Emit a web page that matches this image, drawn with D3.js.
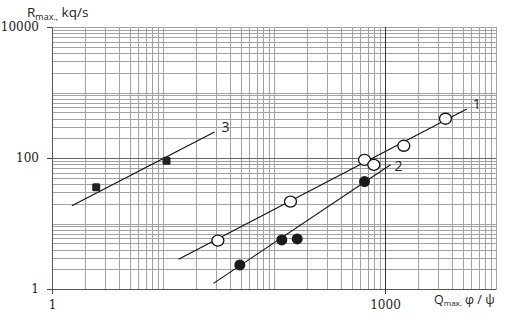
<!DOCTYPE html>
<html><head><meta charset="utf-8">
<script src="https://cdn.jsdelivr.net/npm/d3@7"></script>
<style>
html,body{margin:0;padding:0;background:#fff;}
svg{display:block;}
</style></head>
<body>
<svg id="c" width="508" height="320"></svg>
<script>
// ---- data ----
const xTickLabels = [1, 1000];
const yTickLabels = [1, 100, 10000];
const s1X = [31.2, 140.8, 653.6, 792.6, 1477, 3508];
const s1Y = [5.48, 21.6, 93.9, 78.7, 153.7, 397.6];
const s2X = [49.2, 117.6, 161.8, 653.6];
const s2Y = [2.33, 5.61, 5.81, 43.7];
const s3X = [2.50, 10.75];
const s3Y = [35.9, 90.6];
const line1X = [13.8, 5458], line1Y = [2.85, 559.4];
const line2X = [28.5, 1121], line2Y = [1.22, 78.7];
const line3X = [1.51, 29.1], line3Y = [18.6, 248.9];
const lineNames = ["1", "2", "3"];
const yTitle = ["R", "max.,", " kq/s"];
const xTitle = ["Q", "max.", " φ / ψ"];

// ---- drawing ----
const svg = d3.select("#c");
const x = d3.scaleLog().domain([1, 10000]).range([52, 496]);
const y = d3.scaleLog().domain([1, 10000]).range([289, 27]);

const minor = [];
for (let d = 1; d < 10000; d *= 10) for (let k = 1; k <= 9; k++) minor.push(d * k);
minor.push(10000);

// grid
const gx = svg.append("g").attr("transform", "translate(0,289)")
  .call(d3.axisBottom(x).tickValues(minor.filter(v => v > 1)).tickSize(-262).tickFormat(""));
gx.select(".domain").remove();
gx.selectAll("line").attr("stroke", "#a2a2a2").attr("shape-rendering", "crispEdges");
const gy = svg.append("g").attr("transform", "translate(52,0)")
  .call(d3.axisLeft(y).tickValues(minor.filter(v => v > 1)).tickSize(-444).tickFormat(""));
gy.select(".domain").remove();
gy.selectAll("line").attr("stroke", "#a2a2a2").attr("shape-rendering", "crispEdges");
gy.selectAll(".tick").filter(d => d === 100).select("line").attr("stroke", "#666");

// axes with labels
const ax = svg.append("g").attr("transform", "translate(0,289)")
  .call(d3.axisBottom(x).tickValues(xTickLabels).tickSize(5).tickPadding(6).tickFormat(d3.format("d")));
ax.select(".domain").attr("stroke", "#555").attr("d", "M52.5,0.5H496.5");
ax.selectAll("line").attr("stroke", "#444");
ax.selectAll(".tick").filter(d => d === 1000).select("line").attr("y1", -262).attr("stroke", "#333");
ax.selectAll("text").attr("font-family", "DejaVu Serif").attr("font-size", 12).attr("fill", "#222");

const ay = svg.append("g").attr("transform", "translate(52,0)")
  .call(d3.axisLeft(y).tickValues(yTickLabels).tickSize(5).tickPadding(8).tickFormat(d3.format("d")));
ay.select(".domain").attr("stroke", "#555").attr("d", "M0.5,27.5V294");
ay.selectAll("line").attr("stroke", "#444");
ay.selectAll("text").attr("font-family", "DejaVu Serif").attr("font-size", 12).attr("fill", "#222");

// fit lines
const fits = [[line1X, line1Y], [line2X, line2Y], [line3X, line3Y]];
const lineGen = d3.line().x(d => x(d[0])).y(d => y(d[1]));
const labelOff = [[6, 0], [4, 6], [7, 0]];
fits.forEach((f, i) => {
  const pts = f[0].map((v, j) => [v, f[1][j]]);
  svg.append("path").attr("d", lineGen(pts)).attr("fill", "none").attr("stroke", "#111").attr("stroke-width", 1.1);
  const e = pts[pts.length - 1];
  svg.append("text").attr("x", x(e[0]) + labelOff[i][0]).attr("y", y(e[1]) + labelOff[i][1])
    .attr("font-family", "Open Sans").attr("font-size", 14).attr("fill", "#222").text(lineNames[i]);
});

// series 1: open circles
svg.append("g").selectAll("ellipse").data(s1X.map((v, i) => [v, s1Y[i]])).join("ellipse")
  .attr("cx", d => x(d[0])).attr("cy", d => y(d[1])).attr("rx", 6).attr("ry", 5.5)
  .attr("fill", "#fff").attr("stroke", "#111").attr("stroke-width", 1.3);
// series 2: filled circles
svg.append("g").selectAll("circle").data(s2X.map((v, i) => [v, s2Y[i]])).join("circle")
  .attr("cx", d => x(d[0])).attr("cy", d => y(d[1])).attr("r", 5.5).attr("fill", "#1a1a1a");
// series 3: squares
svg.append("g").selectAll("rect").data(s3X.map((v, i) => [v, s3Y[i]])).join("rect")
  .attr("x", d => x(d[0]) - 4).attr("y", d => y(d[1]) - 4).attr("width", 8).attr("height", 8)
  .attr("rx", 1.5).attr("fill", "#222");

// titles
const yt = svg.append("text").attr("x", 27).attr("y", 17).attr("font-family", "Open Sans").attr("font-size", 13.5).attr("fill", "#222");
yt.append("tspan").text(yTitle[0]);
yt.append("tspan").attr("font-size", 9).attr("dy", 3).text(yTitle[1]);
yt.append("tspan").attr("dy", -3).text(yTitle[2]);

const xt = svg.append("text").attr("x", 434).attr("y", 304).attr("font-family", "Open Sans").attr("font-size", 12.5).attr("fill", "#222");
xt.append("tspan").text(xTitle[0]);
xt.append("tspan").attr("font-size", 8).attr("dy", 2).text(xTitle[1]);
xt.append("tspan").attr("dy", -2).text(xTitle[2]);
</script>
</body></html>
